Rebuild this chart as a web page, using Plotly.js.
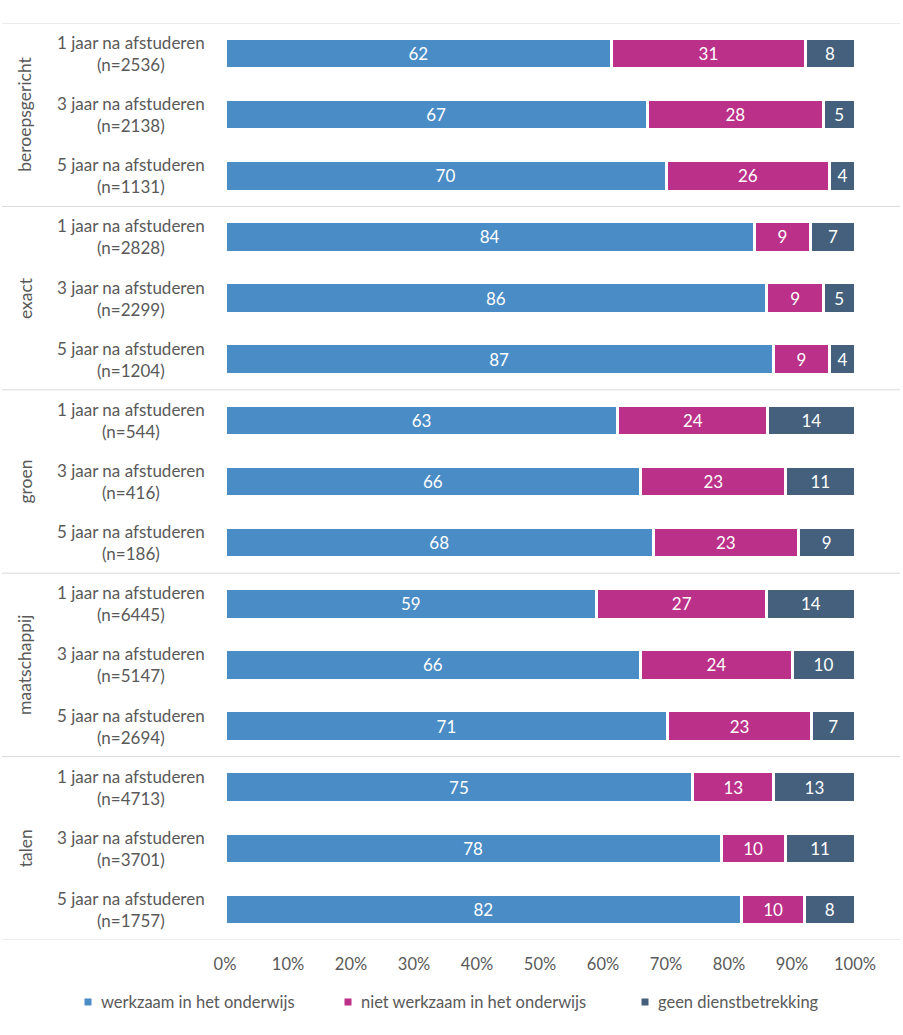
<!DOCTYPE html>
<html>
<head>
<meta charset="utf-8">
<script src="https://cdn.plot.ly/plotly-3.0.1.min.js"></script>
<style>html,body{margin:0;padding:0;background:#fff;}#chart{width:903px;height:1035px;}</style>
</head>
<body>
<div id="chart"></div>
<script>
const groups = ["beroepsgericht", "exact", "groen", "maatschappij", "talen"];
const periods = ["1 jaar na afstuderen", "3 jaar na afstuderen", "5 jaar na afstuderen"];
const nValues = [2536, 2138, 1131, 2828, 2299, 1204, 544, 416, 186, 6445, 5147, 2694, 4713, 3701, 1757];
const werkzaam = [62, 67, 70, 84, 86, 87, 63, 66, 68, 59, 66, 71, 75, 78, 82];
const nietWerkzaam = [31, 28, 26, 9, 9, 9, 24, 23, 23, 27, 24, 23, 13, 10, 10];
const geenDienst = [8, 5, 4, 7, 5, 4, 14, 11, 9, 14, 10, 7, 13, 11, 8];
const seriesNames = ["werkzaam in het onderwijs", "niet werkzaam in het onderwijs", "geen dienstbetrekking"];
const seriesColors = ["#4a8cc6", "#bb3088", "#44607c"];
const xTicks = [0, 10, 20, 30, 40, 50, 60, 70, 80, 90, 100];

const FONT = "Lato, 'Open Sans', sans-serif";
const GREY = "#595959";
const rows = nValues.map((_, i) => i);
const seriesVals = [werkzaam, nietWerkzaam, geenDienst];

// plot area: left 225px, width 630px
const PL = 225, PW = 630;
const px = v => (v - PL) / PW;

const traces = seriesVals.map((vals, k) => ({
  type: "bar",
  orientation: "h",
  y: rows,
  x: vals,
  width: 0.5,
  name: seriesNames[k],
  showlegend: false,
  marker: {color: seriesColors[k], line: {color: "#ffffff", width: 3}},
  text: vals.map(String),
  textposition: "inside",
  insidetextanchor: "middle",
  textangle: 0,
  textfont: {color: "#ffffff", size: 17, family: FONT},
  hoverinfo: "skip"
}));

const annotations = [];
rows.forEach(i => {
  annotations.push({
    xref: "paper", yref: "y", x: px(131), y: i, xanchor: "center", yanchor: "middle",
    text: periods[i % 3] + "<br>(n=" + nValues[i] + ")", align: "center", showarrow: false,
    font: {family: FONT, size: 17, color: GREY}
  });
});
groups.forEach((g, j) => {
  annotations.push({
    xref: "paper", yref: "y", x: px(25), y: j * 3 + 1, xanchor: "center", yanchor: "middle",
    text: g, textangle: -90, showarrow: false,
    font: {family: FONT, size: 17.5, color: GREY}
  });
});

const shapes = [];
for (let j = 0; j <= groups.length; j++) {
  shapes.push({
    type: "line", xref: "paper", yref: "y", x0: px(2), x1: px(900), y0: j * 3 - 0.5, y1: j * 3 - 0.5,
    line: {color: "#d9d9d9", width: 1}
  });
}

// legend (manual, to match small square markers)
const legendMarkerX = [88, 348, 645];
seriesNames.forEach((nm, k) => {
  shapes.push({
    type: "rect", xref: "paper", yref: "paper",
    x0: px(legendMarkerX[k] - 3.5), x1: px(legendMarkerX[k] + 3.5),
    y0: (1035 - 1002 - 3.5 - 95) / 917, y1: (1035 - 1002 + 3.5 - 95) / 917,
    fillcolor: seriesColors[k], line: {width: 0}
  });
  annotations.push({
    xref: "paper", yref: "paper", x: px(legendMarkerX[k] + 11), y: (1035 - 1002 - 95) / 917,
    xanchor: "left", yanchor: "middle", text: nm, showarrow: false,
    font: {family: FONT, size: 16.5, color: GREY}
  });
});

const layout = {
  width: 903, height: 1035,
  margin: {l: PL, r: 903 - PL - PW, t: 23, b: 95},
  paper_bgcolor: "#ffffff", plot_bgcolor: "#ffffff",
  barmode: "stack", barnorm: "percent",
  font: {family: FONT, color: GREY},
  xaxis: {
    range: [0, 100], tickvals: xTicks, ticktext: xTicks.map(v => v + "%"),
    showgrid: false, zeroline: false, showline: false, ticks: "",
    ticklabelstandoff: 12, tickfont: {family: FONT, size: 16.5, color: GREY}, fixedrange: true
  },
  yaxis: {
    range: [14.5, -0.5], showticklabels: false, showgrid: false, zeroline: false,
    showline: false, ticks: "", fixedrange: true
  },
  annotations: annotations,
  shapes: shapes,
  showlegend: false
};

Plotly.newPlot("chart", traces, layout, {displayModeBar: false, staticPlot: true});
</script>
</body>
</html>
